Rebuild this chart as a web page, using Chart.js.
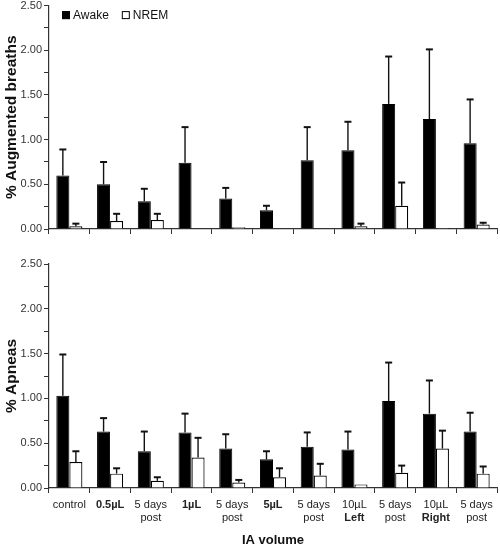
<!DOCTYPE html>
<html>
<head>
<meta charset="utf-8">
<script src="https://cdn.jsdelivr.net/npm/chart.js@4"></script>
<style>
  body { margin: 0; background: #fff; }
  .wrap { position: relative; width: 500px; height: 546px; overflow: hidden; }
  #topChart { position: absolute; left: 0; top: -3px; }
  #bottomChart { position: absolute; left: 0; top: 240px; }
</style>
</head>
<body>
<div class="wrap">
  <canvas id="topChart" width="500" height="243"></canvas>
  <canvas id="bottomChart" width="500" height="306"></canvas>
</div>
<script>
// category labels, '*' marks a bold line
const categories = [
  ['control'], ['*0.5µL'], ['5 days', 'post'], ['*1µL'], ['5 days', 'post'],
  ['*5µL'], ['5 days', 'post'], ['10µL', '*Left'], ['5 days', 'post'],
  ['10µL', '*Right'], ['5 days', 'post']
];
const seriesNames = ['Awake', 'NREM'];
const yTicks = [0, 0.5, 1.0, 1.5, 2.0, 2.5];

// % Augmented breaths
const augAwake    = [0.60, 0.50, 0.31, 0.74, 0.34, 0.21, 0.77, 0.88, 1.40, 1.23, 0.96];
const augAwakeErr = [0.29, 0.25, 0.14, 0.40, 0.12, 0.05, 0.37, 0.32, 0.53, 0.78, 0.49];
const augNrem     = [0.03, 0.09, 0.10, 0.00, 0.02, 0.00, 0.00, 0.03, 0.26, 0.01, 0.05];
const augNremErr  = [0.03, 0.08, 0.07, 0.00, 0.00, 0.00, 0.00, 0.03, 0.26, 0.00, 0.02];

// % Apneas
const apnAwake    = [1.03, 0.63, 0.41, 0.62, 0.44, 0.32, 0.46, 0.43, 0.97, 0.83, 0.63];
const apnAwakeErr = [0.46, 0.15, 0.22, 0.21, 0.16, 0.09, 0.16, 0.20, 0.43, 0.37, 0.21];
const apnNrem     = [0.29, 0.16, 0.08, 0.34, 0.06, 0.12, 0.14, 0.04, 0.17, 0.44, 0.16];
const apnNremErr  = [0.12, 0.06, 0.04, 0.22, 0.03, 0.10, 0.13, 0.00, 0.08, 0.20, 0.08];

const FONT = "'Liberation Sans', Arial, sans-serif";
const AXIS = '#333';

// upper-only error bars with caps
const errorBars = {
  id: 'errorBars',
  afterDatasetsDraw(chart) {
    const ctx = chart.ctx;
    const y = chart.scales.y;
    ctx.save();
    ctx.strokeStyle = '#111';
    chart.data.datasets.forEach((ds, i) => {
      const meta = chart.getDatasetMeta(i);
      meta.data.forEach((bar, j) => {
        const err = ds.errors[j];
        if (!err) return;
        const yTop = y.getPixelForValue(ds.data[j] + err);
        ctx.lineWidth = 1.4;
        ctx.beginPath();
        ctx.moveTo(bar.x, bar.y);
        ctx.lineTo(bar.x, yTop);
        ctx.stroke();
        ctx.lineWidth = 2;
        ctx.beginPath();
        ctx.moveTo(bar.x - 3.5, yTop);
        ctx.lineTo(bar.x + 3.5, yTop);
        ctx.stroke();
      });
    });
    ctx.restore();
  }
};

// legend inside the plot area
const innerLegend = {
  id: 'innerLegend',
  afterDraw(chart, args, opts) {
    if (!opts.show) return;
    const ctx = chart.ctx;
    const area = chart.chartArea;
    let x = area.left + 13;
    const yc = area.top + 9.5;
    ctx.save();
    ctx.font = '12px ' + FONT;
    ctx.textBaseline = 'middle';
    chart.data.datasets.forEach(ds => {
      ctx.fillStyle = ds.backgroundColor;
      ctx.fillRect(x, yc - 4, 8, 8);
      ctx.strokeStyle = '#000';
      ctx.lineWidth = 1;
      ctx.strokeRect(x + 0.5, yc - 3.5, 7, 7);
      ctx.fillStyle = '#111';
      ctx.fillText(ds.label, x + 11, yc + 0.5);
      x += 11 + ctx.measureText(ds.label).width + 13;
    });
    ctx.restore();
  }
};

// category labels with bold lines
const catLabels = {
  id: 'catLabels',
  afterDraw(chart, args, opts) {
    if (!opts.show) return;
    const ctx = chart.ctx;
    const xs = chart.scales.x;
    ctx.save();
    ctx.fillStyle = '#222';
    ctx.textAlign = 'center';
    ctx.textBaseline = 'middle';
    categories.forEach((lines, i) => {
      const x = xs.getPixelForTick(i);
      lines.forEach((ln, k) => {
        const bold = ln.startsWith('*');
        ctx.font = (bold ? 'bold ' : '') + '11px ' + FONT;
        ctx.fillText(bold ? ln.slice(1) : ln, x, xs.top + 16.5 + k * 13.7);
      });
    });
    ctx.restore();
  }
};

function makeChart(id, awake, awakeErr, nrem, nremErr, yTitle, opts) {
  return new Chart(document.getElementById(id), {
    type: 'bar',
    data: {
      labels: categories.map(c => c.map(s => s.replace('*', '')).join(' ')),
      datasets: [
        { label: seriesNames[0], data: awake, errors: awakeErr,
          backgroundColor: '#000', borderColor: '#000', borderWidth: 1 },
        { label: seriesNames[1], data: nrem, errors: nremErr,
          backgroundColor: '#fff', borderColor: '#000', borderWidth: 1.2 }
      ]
    },
    options: {
      responsive: false,
      animation: false,
      layout: { padding: { top: opts.padTop, right: 3, left: 0, bottom: 0 } },
      datasets: { bar: { categoryPercentage: 0.64, barPercentage: 1.0 } },
      plugins: {
        legend: { display: false },
        tooltip: { enabled: false },
        innerLegend: { show: opts.legend },
        catLabels: { show: opts.labels }
      },
      scales: {
        x: {
          grid: { drawOnChartArea: false, drawTicks: true, tickLength: 5, color: AXIS, offset: true },
          border: { color: AXIS, width: 1.2 },
          ticks: { display: false },
          title: {
            display: opts.labels,
            text: 'IA volume',
            color: '#111',
            font: { family: FONT, size: 13, weight: 'bold' },
            padding: { top: 0, bottom: -2 }
          },
          afterFit: s => { s.height = opts.xHeight; }
        },
        y: {
          min: 0, max: 2.5,
          grid: { drawOnChartArea: false, drawTicks: true, tickLength: 5, color: AXIS },
          border: { color: AXIS, width: 1.2 },
          ticks: {
            stepSize: 0.25,
            padding: 2,
            color: '#333',
            font: { family: FONT, size: 11 },
            callback: v => yTicks.some(t => Math.abs(t - v) < 1e-6) ? v.toFixed(2) : ''
          },
          title: {
            display: true,
            text: yTitle,
            color: '#111',
            font: { family: FONT, size: 15.5, weight: 'bold' },
            padding: { top: 2, bottom: 0 }
          },
          afterFit: s => { s.width = 49; }
        }
      }
    },
    plugins: [errorBars, innerLegend, catLabels]
  });
}

makeChart('topChart', augAwake, augAwakeErr, augNrem, augNremErr, '% Augmented breaths',
  { padTop: 5, legend: true, labels: false, xHeight: 11 });
makeChart('bottomChart', apnAwake, apnAwakeErr, apnNrem, apnNremErr, '% Apneas',
  { padTop: 24, legend: false, labels: true, xHeight: 58 });
</script>
</body>
</html>
